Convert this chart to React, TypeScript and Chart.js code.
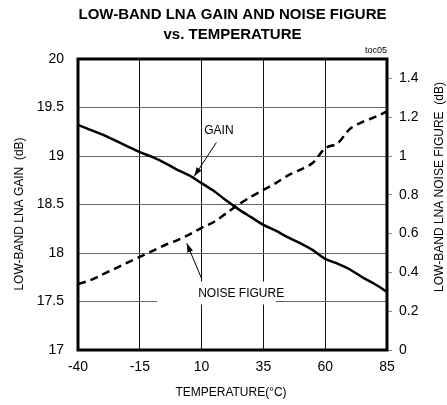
import React, { useEffect, useRef } from "react";
import { Chart, registerables } from "chart.js";

Chart.register(...registerables);

const temperatures = [-40, -35, -30, -25, -20, -15, -10, -5, 0, 5, 10, 15, 20, 25, 30, 35, 40, 45, 50, 55, 60, 65, 70, 75, 80, 85];
const gainDb = [19.32, 19.27, 19.22, 19.16, 19.1, 19.04, 18.99, 18.93, 18.86, 18.8, 18.72, 18.64, 18.54, 18.45, 18.37, 18.29, 18.23, 18.16, 18.1, 18.03, 17.94, 17.89, 17.83, 17.75, 17.68, 17.6];
const noiseFigureDb = [0.34, 0.36, 0.39, 0.42, 0.45, 0.48, 0.51, 0.54, 0.565, 0.595, 0.63, 0.66, 0.705, 0.75, 0.79, 0.825, 0.86, 0.9, 0.93, 0.965, 1.04, 1.065, 1.14, 1.175, 1.2, 1.23];

const xTicks = [-40, -15, 10, 35, 60, 85];
const gainTicks = [17, 17.5, 18, 18.5, 19, 19.5, 20];
const nfTicks = [0, 0.2, 0.4, 0.6, 0.8, 1, 1.2, 1.4];

const titleLines = ["LOW-BAND LNA GAIN AND NOISE FIGURE", "vs. TEMPERATURE"];
const xTitle = "TEMPERATURE(°C)";
const yTitle = "LOW-BAND LNA GAIN  (dB)";
const y1Title = "LOW-BAND LNA NOISE FIGURE  (dB)";
const tag = "toc05";
const gainLabel = "GAIN";
const nfLabel = "NOISE FIGURE";

const FONT = "'Liberation Sans', Arial, sans-serif";

function arrow(ctx: CanvasRenderingContext2D, x1: number, y1: number, x2: number, y2: number) {
  ctx.save();
  ctx.strokeStyle = "#000";
  ctx.fillStyle = "#000";
  ctx.lineWidth = 1;
  ctx.beginPath();
  ctx.moveTo(x1, y1);
  ctx.lineTo(x2, y2);
  ctx.stroke();
  const ang = Math.atan2(y2 - y1, x2 - x1);
  const len = 9;
  const w = 3;
  const bx = x2 - len * Math.cos(ang);
  const by = y2 - len * Math.sin(ang);
  ctx.beginPath();
  ctx.moveTo(x2, y2);
  ctx.lineTo(bx + w * Math.sin(ang), by - w * Math.cos(ang));
  ctx.lineTo(bx - w * Math.sin(ang), by + w * Math.cos(ang));
  ctx.closePath();
  ctx.fill();
  ctx.restore();
}

const decorPlugin = {
  id: "decor",
  beforeDraw(chart: any) {
    const ctx = chart.ctx;
    ctx.save();
    ctx.fillStyle = "#fff";
    ctx.fillRect(0, 0, chart.width, chart.height);
    ctx.restore();
  },
  afterDatasetsDraw(chart: any) {
    const ctx: CanvasRenderingContext2D = chart.ctx;
    const a = chart.chartArea;
    const xs = chart.scales.x;
    const ys = chart.scales.y;
    const y1s = chart.scales.y1;
    ctx.save();
    // noise figure label box
    const nfY = ys.getPixelForValue(17.5);
    const boxL = xs.getPixelForValue(-8);
    const boxR = xs.getPixelForValue(40);
    ctx.fillStyle = "#fff";
    ctx.fillRect(boxL, nfY - 20, boxR - boxL, 23);
    ctx.fillStyle = "#000";
    ctx.font = "12px " + FONT;
    ctx.textAlign = "center";
    ctx.textBaseline = "middle";
    ctx.fillText(nfLabel, xs.getPixelForValue(26), nfY - 8);
    ctx.fillText(gainLabel, xs.getPixelForValue(17), ys.getPixelForValue(19.26));
    // arrows
    arrow(ctx, xs.getPixelForValue(16), ys.getPixelForValue(19.14), xs.getPixelForValue(7), ys.getPixelForValue(18.79));
    arrow(ctx, xs.getPixelForValue(10), nfY - 23, xs.getPixelForValue(4), y1s.getPixelForValue(0.55));
    // frame
    ctx.strokeStyle = "#000";
    ctx.lineWidth = 3;
    ctx.strokeRect(a.left, a.top, a.right - a.left, a.bottom - a.top);
    // title
    ctx.font = "bold 15px " + FONT;
    ctx.textAlign = "center";
    ctx.textBaseline = "middle";
    const cx = (a.left + a.right) / 2;
    ctx.fillText(titleLines[0], cx, 15);
    ctx.fillText(titleLines[1], cx, 35);
    // tag
    ctx.font = "9px " + FONT;
    ctx.textAlign = "right";
    ctx.fillText(tag, a.right, 51);
    // axis titles
    ctx.font = "12px " + FONT;
    ctx.textAlign = "center";
    ctx.fillText(xTitle, 231, 393);
    ctx.save();
    ctx.translate(20, 214);
    ctx.rotate(-Math.PI / 2);
    ctx.fillText(yTitle, 0, 0);
    ctx.restore();
    ctx.save();
    ctx.translate(440, 187);
    ctx.rotate(-Math.PI / 2);
    ctx.fillText(y1Title, 0, 0);
    ctx.restore();
    ctx.restore();
  },
};

export default function App() {
  const ref = useRef<HTMLCanvasElement | null>(null);
  useEffect(() => {
    document.body.style.margin = "0";
    const canvas = ref.current;
    if (!canvas) return;
    const chart = new Chart(canvas, {
      type: "line",
      data: {
        datasets: [
          {
            label: "Gain",
            data: temperatures.map((t, i) => ({ x: t, y: gainDb[i] })),
            yAxisID: "y",
            borderColor: "#000",
            borderWidth: 2.5,
            pointRadius: 0,
            tension: 0.3,
            fill: false,
          },
          {
            label: "Noise Figure",
            data: temperatures.map((t, i) => ({ x: t, y: noiseFigureDb[i] })),
            yAxisID: "y1",
            borderColor: "#000",
            borderWidth: 2.5,
            borderDash: [8, 5],
            pointRadius: 0,
            tension: 0.3,
            fill: false,
          },
        ],
      },
      options: {
        responsive: false,
        animation: false,
        devicePixelRatio: 1,
        layout: { padding: { top: 59, left: 0, right: 0, bottom: 0 } },
        plugins: { legend: { display: false }, tooltip: { enabled: false }, title: { display: false } },
        scales: {
          x: {
            type: "linear",
            min: -40,
            max: 85,
            afterBuildTicks: (s: any) => { s.ticks = xTicks.map((v) => ({ value: v })); },
            afterFit: (s: any) => { s.height = 55; },
            grid: { color: "#111", lineWidth: 1, drawTicks: false },
            border: { display: false },
            ticks: { color: "#000", font: { size: 14, family: FONT }, padding: 9, maxRotation: 0, autoSkip: false, callback: (v: any) => String(v) },
          },
          y: {
            type: "linear",
            position: "left",
            min: 17,
            max: 20,
            afterBuildTicks: (s: any) => { s.ticks = gainTicks.map((v) => ({ value: v })); },
            afterFit: (s: any) => { s.width = 78; },
            grid: { color: "#666", lineWidth: 1, drawTicks: false },
            border: { display: false },
            ticks: { color: "#000", font: { size: 14, family: FONT }, padding: 14, autoSkip: false, callback: (v: any) => String(v) },
          },
          y1: {
            type: "linear",
            position: "right",
            min: 0,
            max: 1.5,
            afterBuildTicks: (s: any) => { s.ticks = nfTicks.map((v) => ({ value: v })); },
            afterFit: (s: any) => { s.width = 60; },
            grid: { drawOnChartArea: false, drawTicks: true, tickLength: 5, color: "#888" },
            border: { display: false },
            ticks: { color: "#000", font: { size: 14, family: FONT }, padding: 7, autoSkip: false, callback: (v: any) => String(Math.round(v * 10) / 10) },
          },
        },
      },
      plugins: [decorPlugin],
    } as any);
    return () => chart.destroy();
  }, []);
  return (
    <div style={{ position: "absolute", left: 0, top: 0, width: 447, height: 405 }}>
      <canvas ref={ref} width={447} height={405} style={{ width: 447, height: 405 }} />
    </div>
  );
}
